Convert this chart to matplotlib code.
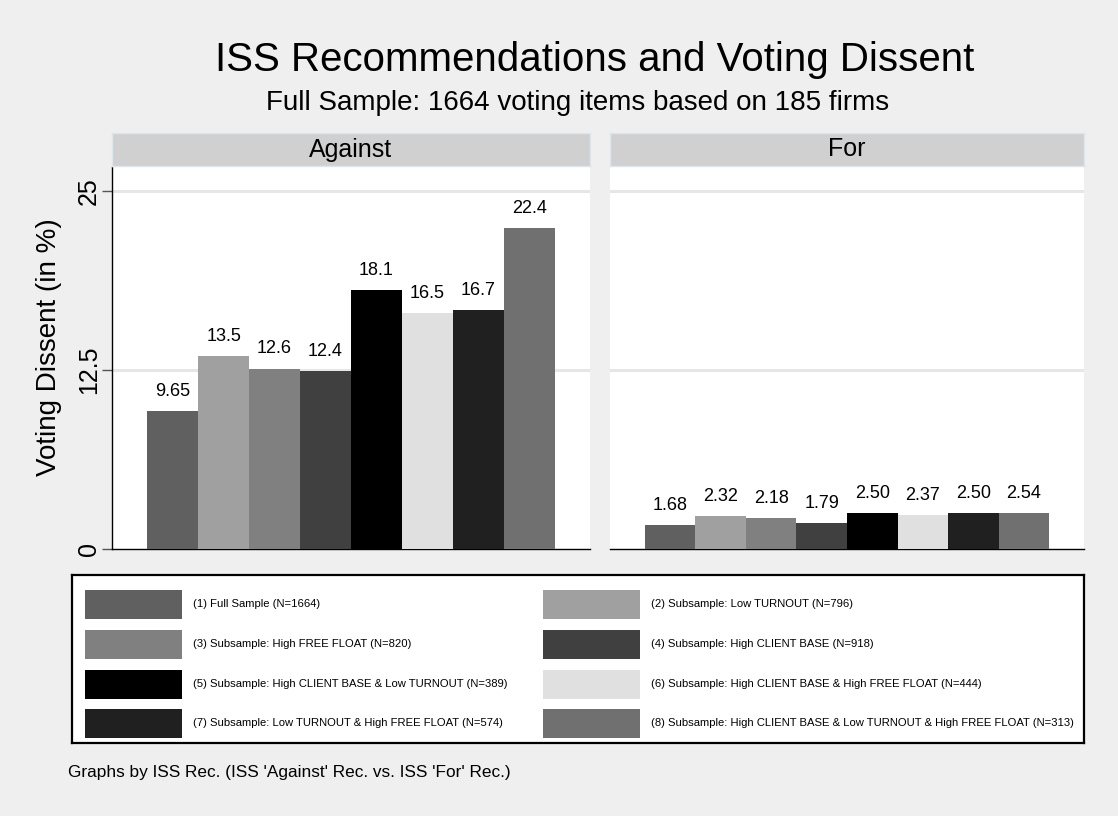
import matplotlib
matplotlib.use("Agg")
import matplotlib.pyplot as plt
from matplotlib.patches import Rectangle

plt.rcParams['font.family'] = ['Liberation Sans', 'DejaVu Sans']

# ---------------- data ----------------
panels = ["Against", "For"]
against_vals = [9.65, 13.5, 12.6, 12.4, 18.1, 16.5, 16.7, 22.4]
for_vals = [1.68, 2.32, 2.18, 1.79, 2.50, 2.37, 2.50, 2.54]
series_labels = [
    "(1) Full Sample (N=1664)",
    "(2) Subsample: Low TURNOUT (N=796)",
    "(3) Subsample: High FREE FLOAT (N=820)",
    "(4) Subsample: High CLIENT BASE (N=918)",
    "(5) Subsample: High CLIENT BASE & Low TURNOUT (N=389)",
    "(6) Subsample: High CLIENT BASE & High FREE FLOAT (N=444)",
    "(7) Subsample: Low TURNOUT & High FREE FLOAT (N=574)",
    "(8) Subsample: High CLIENT BASE & Low TURNOUT & High FREE FLOAT (N=313)",
]
yticks = [0, 12.5, 25]
ytick_labels = ["0", "12.5", "25"]
title = "ISS Recommendations and Voting Dissent"
subtitle = "Full Sample: 1664 voting items based on 185 firms"
ylabel = "Voting Dissent (in %)"
note = "Graphs by ISS Rec. (ISS 'Against' Rec. vs. ISS 'For' Rec.)"

colors = ["#606060", "#A0A0A0", "#808080", "#404040",
          "#000000", "#E0E0E0", "#202020", "#707070"]

W, H = 1118, 816
fig = plt.figure(figsize=(W / 100, H / 100), dpi=100)
fig.patch.set_facecolor("#EFEFEF")


def px_axes(x0, y0, x1, y1, **kw):
    return fig.add_axes([x0 / W, 1 - y1 / H, (x1 - x0) / W, (y1 - y0) / H], **kw)


panel_boxes = [(112, 590), (610, 1084)]
plot_top, plot_bot = 167, 549
strip_top = 133
ymax = 26.67

for i, (name, vals) in enumerate(zip(panels, [against_vals, for_vals])):
    x0, x1 = panel_boxes[i]
    ax = px_axes(x0, plot_top, x1, plot_bot)
    ax.set_facecolor("white")
    xs = list(range(len(vals)))
    bars = ax.bar(xs, vals, width=1.0, color=colors, edgecolor="none", zorder=3)
    for b, v in zip(bars, vals):
        ax.annotate(format(v, "#.3g"), (b.get_x() + b.get_width() / 2, v),
                    xytext=(0, 8), textcoords="offset points",
                    ha="center", va="bottom", fontsize=13, zorder=4)
    ax.set_xlim(-1.19, 8.19)
    ax.set_ylim(0, ymax)
    for t in yticks[1:]:
        ax.axhline(t, color="#E6E6E6", lw=2.2, zorder=1)
    ax.set_xticks([])
    for s in ["top", "right"]:
        ax.spines[s].set_visible(False)
    ax.spines["bottom"].set_color("black")
    ax.spines["bottom"].set_linewidth(1.0)
    if i == 0:
        ax.spines["left"].set_color("black")
        ax.spines["left"].set_linewidth(1.0)
        ax.set_yticks(yticks)
        ax.set_yticklabels(ytick_labels, rotation=90, va="center", fontsize=18)
        ax.tick_params(axis="y", length=7, width=1, color="#555555", pad=1)
    else:
        ax.spines["left"].set_visible(False)
        ax.set_yticks([])

    # strip
    sax = px_axes(x0, strip_top, x1, plot_top - 1)
    sax.set_facecolor("#D0D0D0")
    for s in sax.spines.values():
        s.set_color("#DCE6EC")
        s.set_linewidth(1.0)
    sax.set_xticks([])
    sax.set_yticks([])
    sax.text(0.5, 0.5, name, ha="center", va="center", fontsize=18,
             transform=sax.transAxes)

# titles
fig.text(595 / W, 1 - 60 / H, title, ha="center", va="center", fontsize=29)
fig.text(578 / W, 1 - 103 / H, subtitle, ha="center", va="center", fontsize=20)
fig.text(49 / W, 1 - 347 / H, ylabel, ha="center", va="center",
         rotation=90, fontsize=20)

# legend box
lx0, ly0, lx1, ly1 = 72, 575, 1084, 743
lax = px_axes(lx0, ly0, lx1, ly1)
lax.set_facecolor("white")
for s in lax.spines.values():
    s.set_color("black")
    s.set_linewidth(1.6)
lax.set_xlim(0, lx1 - lx0)
lax.set_ylim(ly1 - ly0, 0)
lax.set_xticks([])
lax.set_yticks([])
row_centers = [29, 69, 109, 148]
col_swatch = [13, 471]
sw_w, sw_h = 97, 29
for k, (lab, c) in enumerate(zip(series_labels, colors)):
    row, col = k // 2, k % 2
    cx = col_swatch[col]
    cy = row_centers[row]
    lax.add_patch(Rectangle((cx, cy - sw_h / 2), sw_w, sw_h, facecolor=c,
                            edgecolor="none"))
    lax.text(cx + sw_w + 11, cy, lab, ha="left", va="center", fontsize=8.15)

fig.text(68 / W, 1 - 773 / H, note, ha="left", va="center", fontsize=12.4)

fig.savefig("out.png", dpi=100, facecolor=fig.get_facecolor())
